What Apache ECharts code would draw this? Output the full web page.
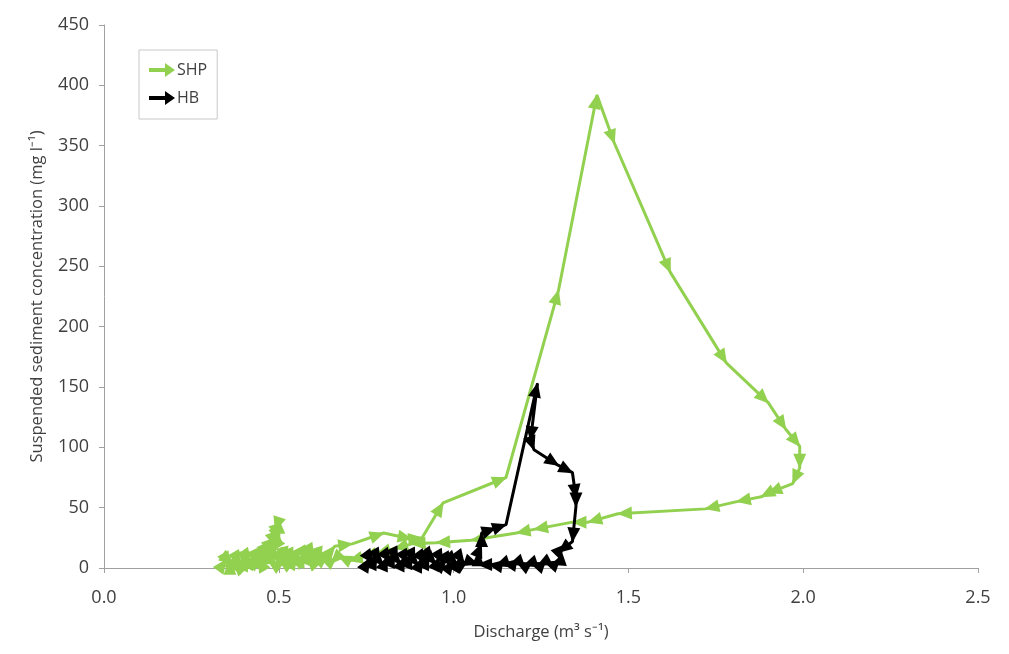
<!DOCTYPE html>
<html><head><meta charset="utf-8">
<script src="https://cdn.jsdelivr.net/npm/echarts@6/dist/echarts.min.js"></script>
<style>html,body{margin:0;padding:0;background:#fff}#c{width:1009px;height:654px}</style>
</head><body><div id="c"></div>
<script>
// Discharge (m3 s-1), suspended sediment concentration (mg l-1), in time order
const seriesNames = ['SHP', 'HB'];
const shpPoints = [
  [0.34,3],[0.35,7],[0.36,2],[0.36,6],[0.37,4],[0.38,8],[0.39,3],[0.40,7],[0.40,2],[0.41,9],
  [0.42,5],[0.43,10],[0.44,4],[0.45,11],[0.46,6],[0.46,15],[0.47,9],[0.47,20],[0.48,12],[0.48,27],
  [0.49,18],[0.49,34],[0.50,25],[0.50,40],[0.49,31],[0.50,22],[0.48,14],[0.50,8],[0.51,17],[0.52,6],
  [0.53,12],[0.54,5],[0.55,10],[0.56,4],[0.57,12],[0.58,7],[0.59,14],[0.60,9],[0.61,15],[0.62,6],
  [0.64,11],[0.66,18],[0.71,20],[0.80,29],[0.88,24],[0.91,25],[0.97,54],[1.15,75],[1.30,230],[1.41,392],
  [1.46,352],[1.62,245],[1.78,170],[1.90,137],[1.95,115],[1.99,101],[1.99,83],[1.97,70],[1.90,62],[1.88,59],
  [1.81,55],[1.72,49],[1.47,45],[1.385,38],[1.34,38],[1.23,32],[1.18,29],[1.05,23],[0.95,21],[0.88,20],
  [0.83,16],[0.78,12],[0.74,9],[0.70,6],[0.67,10],[0.65,4],[0.62,8],[0.60,3],[0.58,9],[0.56,5],
  [0.54,10],[0.52,3],[0.50,7],[0.49,2],[0.47,6],[0.45,3],[0.44,8],[0.42,4],[0.40,6],[0.38,2],
  [0.37,5],[0.35,3]
];
const hbPoints = [
  [0.75,3],[0.76,8],[0.77,4],[0.78,10],[0.79,5],[0.80,2],[0.81,9],[0.82,5],[0.83,12],[0.84,6],
  [0.85,3],[0.86,9],[0.87,4],[0.88,11],[0.89,5],[0.90,2],[0.91,8],[0.92,4],[0.93,10],[0.94,6],
  [0.95,3],[0.96,9],[0.97,4],[0.98,7],[0.99,2],[1.00,6],[1.01,3],[1.02,8],[1.03,4],[1.04,6],
  [1.07,3],[1.07,13],[1.08,20],[1.08,29],[1.12,33],[1.15,36],[1.24,153],[1.22,106],[1.23,98],[1.30,85],
  [1.34,79],[1.35,58],[1.35,51],[1.34,22],[1.30,13],[1.31,6],[1.28,3],[1.26,5],[1.24,2],[1.22,4],
  [1.20,2],[1.18,5],[1.16,3],[1.14,4],[1.12,2],[1.10,3],[1.07,3]
];
const xMin = 0, xMax = 2.5, xStep = 0.5;
const yMin = 0, yMax = 450, yStep = 50;
const colors = ['#92D050', '#000000'];

const FONT = '"Open Sans", "Liberation Sans", sans-serif';
const chart = echarts.init(document.getElementById('c'), null, {renderer: 'canvas'});
const arrowIcon = 'path://M0,5 L16,5 L16,0 L26,7 L16,14 L16,9 L0,9 Z';
const SYM = [13, 15];

function baseSeries(points, i) {
  return {
    name: seriesNames[i], type: 'line', data: points,
    showAllSymbol: true, symbol: 'triangle', symbolSize: SYM,
    lineStyle: {color: colors[i], width: 3},
    itemStyle: {color: colors[i]},
    z: 2 + i
  };
}

chart.setOption({
  animation: false,
  backgroundColor: '#fff',
  grid: {left: 104, right: 31, top: 25, bottom: 86},
  legend: {
    left: 139, top: 50, orient: 'vertical',
    borderColor: '#c8c8c8', borderWidth: 1,
    padding: [12, 10, 13, 10], itemGap: 12, itemWidth: 26, itemHeight: 15,
    textStyle: {fontFamily: FONT, fontSize: 16, color: '#404040', padding: [0, 0, 0, -3]},
    data: seriesNames.map((n, i) => ({name: n, icon: arrowIcon, itemStyle: {color: colors[i]}}))
  },
  xAxis: {
    type: 'value', min: xMin, max: xMax, interval: xStep,
    axisLine: {show: true, lineStyle: {color: '#a0a0a0', width: 1}},
    axisTick: {show: true, length: 5, lineStyle: {color: '#a0a0a0'}},
    splitLine: {show: false},
    axisLabel: {formatter: v => v.toFixed(1), color: '#404040', fontSize: 18, fontFamily: FONT, margin: 21},
    name: 'Discharge (m³ s⁻¹)', nameLocation: 'middle', nameGap: 56,
    nameTextStyle: {fontFamily: FONT, fontSize: 16.5, color: '#404040'}
  },
  yAxis: {
    type: 'value', min: yMin, max: yMax, interval: yStep,
    axisLine: {show: true, lineStyle: {color: '#a0a0a0', width: 1}},
    axisTick: {show: true, length: 5, lineStyle: {color: '#a0a0a0'}},
    splitLine: {show: false},
    axisLabel: {color: '#404040', fontSize: 18, fontFamily: FONT, margin: 15},
    name: 'Suspended sediment concentration (mg l⁻¹)', nameLocation: 'middle', nameGap: 58,
    nameTextStyle: {fontFamily: FONT, fontSize: 16.5, color: '#404040'}
  },
  series: [baseSeries(shpPoints, 0), baseSeries(hbPoints, 1)]
});

function withArrows(points, si) {
  return points.map((p, i) => {
    if (i === 0) return {value: p, symbolSize: 0};
    const a = chart.convertToPixel({seriesIndex: si}, points[i - 1]);
    const b = chart.convertToPixel({seriesIndex: si}, p);
    const dx = b[0] - a[0], dy = b[1] - a[1];
    const len = Math.hypot(dx, dy) || 1;
    const ang = Math.atan2(-dy, dx) * 180 / Math.PI;
    const h = SYM[1] / 2 - 1;
    return {value: p, symbolRotate: ang - 90, symbolOffset: [-dx / len * h, -dy / len * h]};
  });
}

chart.setOption({
  series: [{data: withArrows(shpPoints, 0)}, {data: withArrows(hbPoints, 1)}]
});
</script></body></html>
